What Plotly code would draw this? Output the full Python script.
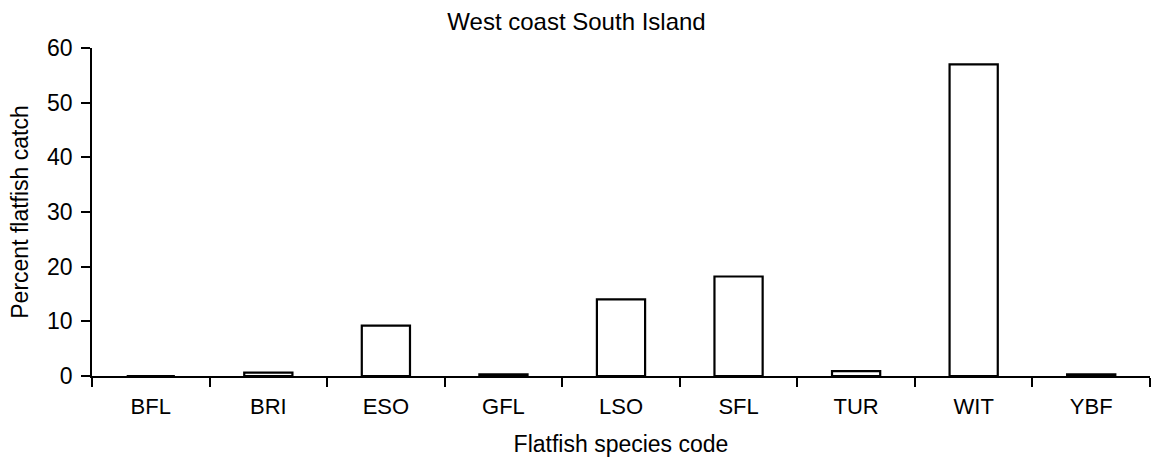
import plotly.graph_objects as go

species = ["BFL", "BRI", "ESO", "GFL", "LSO", "SFL", "TUR", "WIT", "YBF"]
percent = [0.0, 0.6, 9.2, 0.3, 14.0, 18.2, 0.9, 57.0, 0.3]
y_ticks = [0, 10, 20, 30, 40, 50, 60]

FONT = "Liberation Sans, Arial, sans-serif"

fig = go.Figure(go.Bar(
    x=species, y=percent,
    marker=dict(color="white", line=dict(color="black", width=2.2)),
    width=0.41,
))

fig.update_layout(
    width=1160, height=466,
    margin=dict(l=92, r=10, t=48, b=90),
    paper_bgcolor="white", plot_bgcolor="white",
    font=dict(family=FONT, color="black", size=22),
    showlegend=False,
    title=dict(text="West coast South Island", x=0.497, xanchor="center",
               yref="container", y=0.953, yanchor="middle", font=dict(size=24)),
)
fig.update_xaxes(
    title=dict(text="Flatfish species code", font=dict(size=23), standoff=18),
    showline=True, linecolor="black", linewidth=1.5,
    ticks="outside", tickson="boundaries", ticklen=9, tickcolor="black", tickwidth=1.5,
    showgrid=False, tickfont=dict(size=22), ticklabelstandoff=10,
)
fig.update_yaxes(
    title=dict(text="Percent flatfish catch", font=dict(size=23), standoff=12),
    range=[0, 60], tickvals=y_ticks,
    showline=True, linecolor="black", linewidth=1.5,
    ticks="outside", ticklen=9, tickcolor="black", tickwidth=1.5,
    showgrid=False, zeroline=False, tickfont=dict(size=23), ticklabelstandoff=4,
)

fig.write_html("out.html")
